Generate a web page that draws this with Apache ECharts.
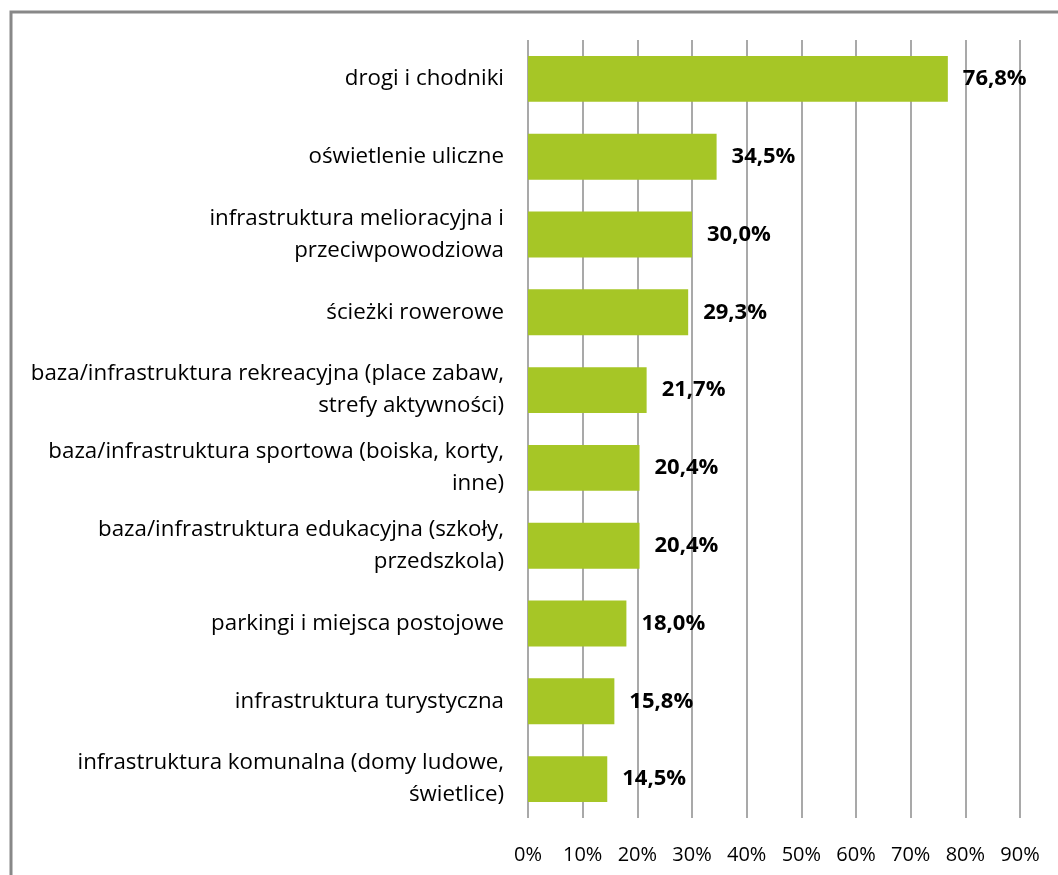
<!DOCTYPE html>
<html><head><meta charset="utf-8">
<script src="https://cdn.jsdelivr.net/npm/echarts@6/dist/echarts.min.js"></script>
<style>html,body{margin:0;padding:0;background:#fff}#c{width:1058px;height:875px}</style>
</head><body><div id="c"></div>
<script>
const categories = [
  'drogi i chodniki',
  'oświetlenie uliczne',
  'infrastruktura melioracyjna i\nprzeciwpowodziowa',
  'ścieżki rowerowe',
  'baza/infrastruktura rekreacyjna (place zabaw,\nstrefy aktywności)',
  'baza/infrastruktura sportowa (boiska, korty,\ninne)',
  'baza/infrastruktura edukacyjna (szkoły,\nprzedszkola)',
  'parkingi i miejsca postojowe',
  'infrastruktura turystyczna',
  'infrastruktura komunalna (domy ludowe,\nświetlice)'
];
const values = [76.8, 34.5, 30.0, 29.3, 21.7, 20.4, 20.4, 18.0, 15.8, 14.5];
const xTicks = [0, 10, 20, 30, 40, 50, 60, 70, 80, 90];

const chart = echarts.init(document.getElementById('c'));
chart.setOption({
  animation: false,
  backgroundColor: '#fff',
  grid: { left: 528, right: 38, top: 40, bottom: 57, containLabel: false },
  xAxis: {
    type: 'value', min: xTicks[0], max: xTicks[xTicks.length - 1], interval: 10,
    axisLine: { show: false }, axisTick: { show: false },
    splitLine: { show: true, lineStyle: { color: '#8c8c8c', width: 1.5 } },
    axisLabel: { formatter: v => v + '%', color: '#000', fontFamily: 'Open Sans', fontSize: 20, margin: 27 }
  },
  yAxis: {
    type: 'category', data: categories, inverse: true,
    axisLine: { show: false }, axisTick: { show: false },
    axisLabel: { color: '#000', fontFamily: 'Open Sans', fontSize: 22.3, lineHeight: 32, margin: 24, align: 'right', padding: [4, 0, 0, 0] }
  },
  series: [{
    type: 'bar', data: values, barCategoryGap: '41%',
    itemStyle: { color: '#a6c626' },
    label: { show: true, position: 'right', distance: 15, color: '#000', fontFamily: 'Open Sans', fontWeight: 'bold', fontSize: 22,
      formatter: p => p.value.toFixed(1).replace('.', ',') + '%' }
  }],
  graphic: [{
    type: 'polyline', silent: true,
    shape: { points: [[11, 875], [11, 12], [1058, 12]] },
    style: { stroke: '#888', lineWidth: 3, fill: null }
  }]
});
</script></body></html>
